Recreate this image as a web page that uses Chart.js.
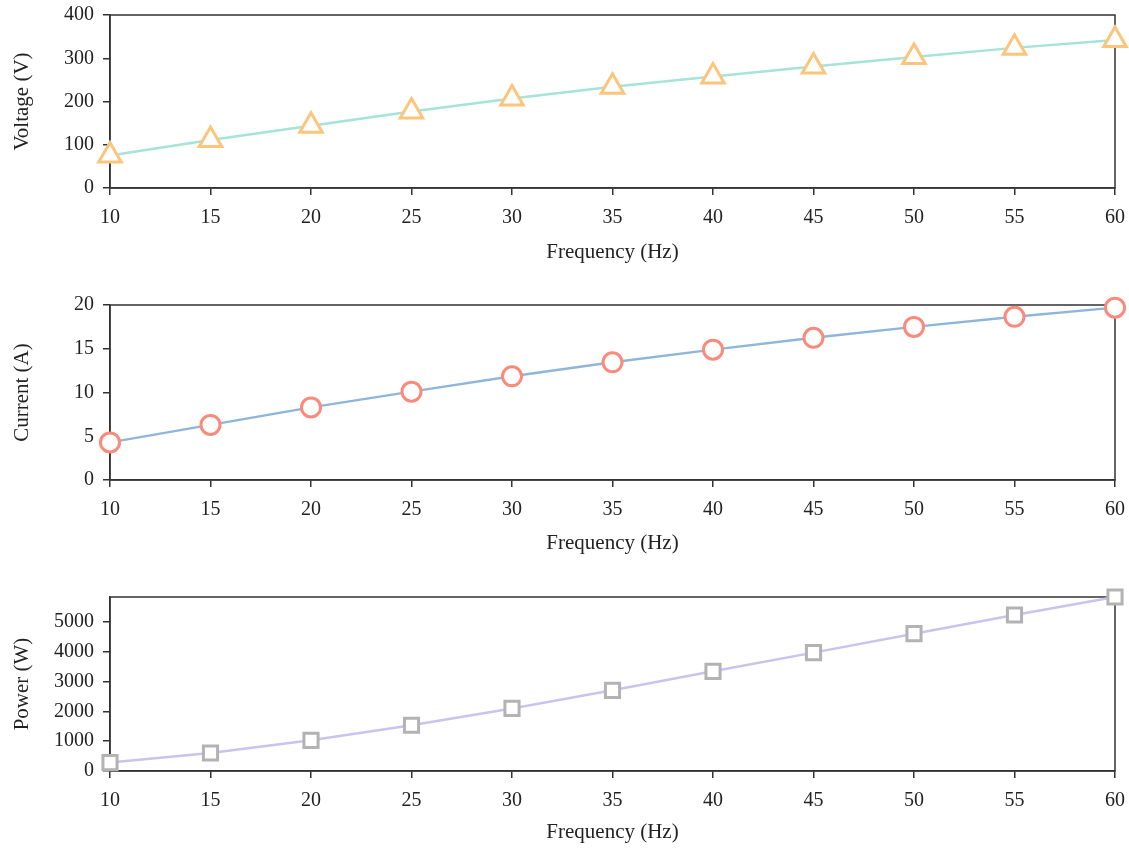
<!DOCTYPE html>
<html lang="en">

<head>
    <meta charset="UTF-8">
    <title>Frequency Sweep</title>
    <script src="https://cdn.jsdelivr.net/npm/chart.js"></script>
    <style>
        body { margin: 0; background: #fff; }
        .panel { position: absolute; left: 0; }
    </style>
</head>

<body>
    <div class="panel" style="top:0"><canvas id="voltageChart" width="1129" height="263"></canvas></div>
    <div class="panel" style="top:263px"><canvas id="currentChart" width="1129" height="291"></canvas></div>
    <div class="panel" style="top:554px"><canvas id="powerChart" width="1129" height="289"></canvas></div>

    <script>
        // Measured values per frequency step
        const frequency = [10, 15, 20, 25, 30, 35, 40, 45, 50, 55, 60];
        const voltage = [75, 111, 144, 177, 207, 234, 258, 281, 303, 324, 342];
        const current = [4.3, 6.3, 8.3, 10.1, 11.85, 13.45, 14.9, 16.25, 17.5, 18.65, 19.7];
        const power = [282, 604, 1030, 1535, 2100, 2708, 3346, 3973, 4610, 5235, 5840];

        // Tick values shown on each y axis
        const voltageTicks = [0, 100, 200, 300, 400];
        const currentTicks = [0, 5, 10, 15, 20];
        const powerTicks = [0, 1000, 2000, 3000, 4000, 5000];

        const FONT = 'Liberation Serif, Times New Roman, serif';
        const INK = '#333333';

        // Box around the plot area (top and right edges too)
        const frameBox = {
            id: 'frameBox',
            beforeDatasetsDraw(chart) {
                const { ctx, chartArea: a } = chart;
                ctx.save();
                ctx.strokeStyle = INK;
                ctx.lineWidth = 1.5;
                ctx.strokeRect(a.left, a.top, a.right - a.left, a.bottom - a.top);
                ctx.restore();
            }
        };

        function makeChart(id, values, opts) {
            const ctx = document.getElementById(id).getContext('2d');
            return new Chart(ctx, {
                type: 'line',
                data: {
                    datasets: [{
                        data: frequency.map((f, i) => ({ x: f, y: values[i] })),
                        borderColor: opts.lineColor,
                        borderWidth: 2.5,
                        tension: 0,
                        clip: false,
                        pointStyle: opts.pointStyle,
                        pointRadius: opts.pointRadius,
                        pointBorderWidth: 3,
                        pointBorderColor: opts.markerColor,
                        pointBackgroundColor: '#ffffff'
                    }]
                },
                options: {
                    responsive: false,
                    animation: false,
                    devicePixelRatio: 1,
                    layout: {
                        autoPadding: false,
                        padding: { top: opts.padTop, right: 14, bottom: 0, left: 0 }
                    },
                    plugins: { legend: { display: false }, tooltip: { enabled: false } },
                    scales: {
                        x: {
                            type: 'linear',
                            min: 10,
                            max: 60,
                            afterFit(scale) {
                                scale.height = opts.xHeight;
                                scale.paddingLeft = 0;
                                scale.paddingRight = 0;
                            },
                            border: { color: INK, width: 1.5 },
                            grid: { drawOnChartArea: false, drawTicks: true, tickLength: 7, color: INK, lineWidth: 1.5 },
                            ticks: { stepSize: 5, padding: 11, color: '#222', font: { family: FONT, size: 20 } },
                            title: {
                                display: true,
                                text: 'Frequency (Hz)',
                                color: '#222',
                                font: { family: FONT, size: 21, lineHeight: 1 },
                                padding: { top: 0, bottom: 0 }
                            }
                        },
                        y: {
                            min: 0,
                            max: opts.yMax,
                            afterFit(scale) {
                                scale.width = 110;
                                scale.paddingTop = 0;
                                scale.paddingBottom = 0;
                            },
                            afterBuildTicks(scale) {
                                scale.ticks = opts.yTicks.map(v => ({ value: v }));
                            },
                            border: { color: INK, width: 1.5 },
                            grid: { drawOnChartArea: false, drawTicks: true, tickLength: 7, color: INK, lineWidth: 1.5 },
                            ticks: {
                                padding: 9,
                                color: '#222',
                                font: { family: FONT, size: 20 },
                                callback: v => String(v)
                            },
                            title: {
                                display: true,
                                text: opts.yTitle,
                                color: '#222',
                                font: { family: FONT, size: 21, lineHeight: 1 },
                                padding: { top: 12, bottom: 0 }
                            }
                        }
                    }
                },
                plugins: [frameBox]
            });
        }

        makeChart('voltageChart', voltage, {
            yTitle: 'Voltage (V)', yMax: 400, yTicks: voltageTicks,
            lineColor: '#a6e3d8', markerColor: '#fdc57c',
            pointStyle: 'triangle', pointRadius: 13,
            padTop: 15, xHeight: 75
        });

        makeChart('currentChart', current, {
            yTitle: 'Current (A)', yMax: 20, yTicks: currentTicks,
            lineColor: '#8fb5db', markerColor: '#fb8a7b',
            pointStyle: 'circle', pointRadius: 9.5,
            padTop: 42, xHeight: 74
        });

        makeChart('powerChart', power, {
            yTitle: 'Power (W)', yMax: Math.max(...power), yTicks: powerTicks,
            lineColor: '#cbc3ef', markerColor: '#b3b3b3',
            pointStyle: 'rect', pointRadius: 10,
            padTop: 43, xHeight: 72
        });
    </script>
</body>

</html>
